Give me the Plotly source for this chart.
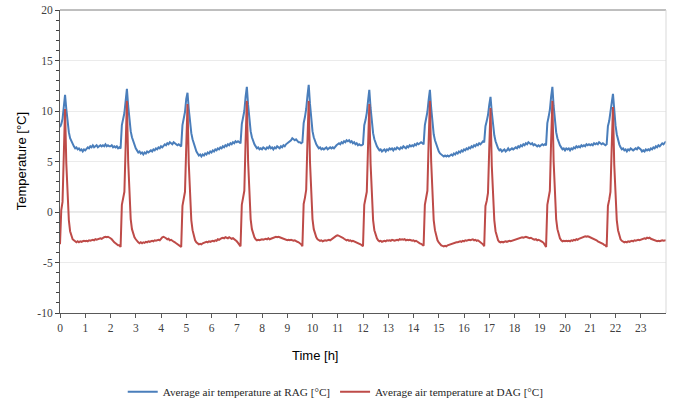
import numpy as np
import plotly.graph_objects as go

# Sampling grid: one reading every 0.05 h from 0 to 24 h
TIME_STEP_H = 0.05
time_h = np.round(np.arange(0, 24 + TIME_STEP_H / 2, TIME_STEP_H), 2)

# Average air temperature at RAG [°C] (one row per hour, 20 readings each)
rag_temp = [
    8.4, 8.7, 9.2, 10.6, 11.6, 10.2, 8.8, 7.9, 7.3, 7.0, 6.7, 6.5, 6.3, 6.4, 6.2, 6.3, 6.1, 6.2, 6.0, 6.2,
    6.1, 6.3, 6.4, 6.3, 6.5, 6.4, 6.6, 6.4, 6.5, 6.6, 6.4, 6.5, 6.6, 6.5, 6.6, 6.5, 6.7, 6.5, 6.6, 6.5,
    6.5, 6.6, 6.4, 6.5, 6.4, 6.5, 6.3, 6.4, 6.3, 8.6, 9.1, 9.8, 11.0, 12.2, 10.5, 8.9, 8.0, 7.4, 7.0, 6.6,
    6.3, 6.1, 5.9, 6.0, 5.8, 5.9, 5.7, 5.9, 5.8, 6.0, 5.9, 6.0, 6.1, 6.0, 6.2, 6.1, 6.3, 6.2, 6.4, 6.3,
    6.5, 6.4, 6.6, 6.7, 6.6, 6.8, 6.7, 6.9, 6.8, 6.7, 6.9, 6.8, 6.7, 6.6, 6.7, 6.6, 6.5, 8.6, 9.2, 9.9,
    11.2, 11.8, 10.2, 8.8, 7.8, 7.2, 6.7, 6.3, 6.0, 5.8, 5.6, 5.7, 5.5, 5.7, 5.6, 5.8, 5.7, 5.9, 5.8, 6.0,
    5.9, 6.1, 6.0, 6.2, 6.1, 6.3, 6.2, 6.4, 6.3, 6.5, 6.4, 6.6, 6.5, 6.7, 6.6, 6.8, 6.7, 6.9, 6.8, 7.0,
    6.9, 7.0, 6.9, 6.8, 8.7, 9.3, 10.0, 11.4, 12.4, 10.6, 9.0, 8.0, 7.4, 7.0, 6.7, 6.5, 6.3, 6.4, 6.2, 6.3,
    6.2, 6.4, 6.3, 6.2, 6.4, 6.3, 6.5, 6.3, 6.4, 6.2, 6.4, 6.3, 6.5, 6.4, 6.3, 6.5, 6.4, 6.6, 6.5, 6.7,
    6.8, 6.9, 7.0, 7.1, 7.3, 7.2, 7.1, 7.2, 7.0, 6.9, 6.9, 6.8, 6.9, 8.8, 9.4, 10.2, 11.5, 12.6, 10.7, 9.0,
    8.0, 7.4, 7.0, 6.7, 6.5, 6.3, 6.4, 6.2, 6.3, 6.2, 6.3, 6.4, 6.2, 6.3, 6.4, 6.3, 6.4, 6.3, 6.5, 6.6,
    6.7, 6.8, 6.7, 6.9, 6.8, 7.0, 6.9, 7.1, 7.0, 7.1, 6.9, 7.0, 6.8, 6.9, 6.7, 6.8, 6.6, 6.7, 6.6, 6.6,
    6.7, 8.6, 9.1, 9.8, 11.0, 12.1, 10.3, 8.8, 7.8, 7.2, 6.8, 6.5, 6.3, 6.1, 6.2, 6.0, 6.1, 6.2, 6.0, 6.2,
    6.1, 6.3, 6.2, 6.3, 6.1, 6.3, 6.2, 6.4, 6.3, 6.2, 6.4, 6.3, 6.5, 6.4, 6.3, 6.5, 6.4, 6.6, 6.5, 6.6,
    6.5, 6.7, 6.6, 6.8, 6.7, 6.8, 6.9, 6.8, 6.7, 8.6, 9.2, 9.9, 11.1, 12.1, 10.3, 8.7, 7.7, 7.1, 6.7, 6.3,
    6.0, 5.8, 5.7, 5.6, 5.5, 5.6, 5.5, 5.6, 5.5, 5.6, 5.7, 5.6, 5.8, 5.7, 5.9, 5.8, 6.0, 5.9, 6.1, 6.0,
    6.2, 6.1, 6.3, 6.2, 6.4, 6.3, 6.5, 6.4, 6.6, 6.5, 6.7, 6.6, 6.8, 6.7, 6.9, 7.0, 6.9, 8.5, 9.0, 9.6,
    10.6, 11.4, 9.9, 8.5, 7.6, 7.0, 6.6, 6.3, 6.1, 6.2, 6.0, 6.1, 6.2, 6.0, 6.1, 6.3, 6.1, 6.2, 6.3, 6.2,
    6.3, 6.4, 6.3, 6.5, 6.4, 6.6, 6.5, 6.7, 6.6, 6.8, 6.7, 6.9, 6.8, 6.7, 6.8, 6.6, 6.7, 6.6, 6.5, 6.6,
    6.5, 6.6, 6.7, 6.6, 6.7, 6.6, 8.8, 9.4, 10.1, 11.4, 12.4, 10.5, 8.9, 7.9, 7.3, 6.9, 6.6, 6.4, 6.2, 6.3,
    6.1, 6.3, 6.2, 6.3, 6.1, 6.3, 6.2, 6.4, 6.3, 6.5, 6.4, 6.5, 6.4, 6.6, 6.5, 6.6, 6.5, 6.7, 6.6, 6.7,
    6.6, 6.7, 6.6, 6.8, 6.7, 6.8, 6.7, 6.9, 6.8, 6.7, 6.8, 6.7, 6.6, 6.7, 8.5, 9.0, 9.7, 10.8, 11.7, 10.0,
    8.6, 7.7, 7.1, 6.7, 6.4, 6.2, 6.3, 6.1, 6.2, 6.0, 6.2, 6.1, 6.3, 6.2, 6.1, 6.2, 6.3, 6.2, 6.4, 6.3,
    6.2, 6.0, 6.1, 6.0, 6.2, 6.1, 6.2, 6.1, 6.3, 6.2, 6.4, 6.3, 6.5, 6.4, 6.6, 6.5, 6.7, 6.8, 6.7, 6.9,
    7.0,
]

# Average air temperature at DAG [°C]
dag_temp = [
    -3.2, 0.2, 1.0, 5.5, 10.2, 4.8, 1.2, -0.8, -1.9, -2.4, -2.7, -2.8, -2.9, -3.0, -2.9, -3.0, -2.9, -2.95, -2.9, -2.85,
    -2.9, -2.85, -2.9, -2.8, -2.85, -2.8, -2.75, -2.8, -2.7, -2.75, -2.7, -2.7, -2.6, -2.65, -2.55, -2.5, -2.45, -2.5, -2.45, -2.5,
    -2.6, -2.7, -2.9, -3.0, -3.1, -3.2, -3.3, -3.3, -3.45, 0.7, 1.2, 2.0, 6.5, 11.0, 5.0, 1.3, -0.7, -1.7, -2.2, -2.5,
    -2.7, -2.9, -3.0, -3.1, -3.0, -3.1, -3.0, -3.05, -2.95, -3.0, -2.9, -2.95, -2.9, -2.85, -2.9, -2.8, -2.85, -2.8, -2.75, -2.8,
    -2.6, -2.5, -2.45, -2.5, -2.6, -2.7, -2.65, -2.8, -2.75, -2.85, -2.9, -3.0, -3.1, -3.2, -3.25, -3.35, -3.45, 0.6, 1.2, 2.0,
    6.5, 10.7, 4.8, 1.2, -0.8, -1.8, -2.4, -2.8, -3.0, -3.1, -3.2, -3.15, -3.2, -3.1, -3.05, -3.0, -2.95, -3.0, -2.9, -2.95,
    -2.9, -2.85, -2.9, -2.8, -2.85, -2.7, -2.75, -2.65, -2.6, -2.55, -2.6, -2.5, -2.55, -2.6, -2.5, -2.6, -2.65, -2.6, -2.7, -2.75,
    -2.9, -3.05, -3.2, -3.4, 0.7, 1.3, 2.1, 7.0, 11.0, 5.0, 1.3, -0.7, -1.7, -2.2, -2.5, -2.7, -2.8, -2.75, -2.8, -2.75,
    -2.7, -2.75, -2.7, -2.65, -2.7, -2.6, -2.7, -2.65, -2.6, -2.55, -2.5, -2.45, -2.5, -2.45, -2.5, -2.55, -2.6, -2.65, -2.7, -2.75,
    -2.8, -2.75, -2.8, -2.75, -2.8, -2.85, -2.8, -2.9, -2.95, -3.0, -3.1, -3.2, -3.4, 0.8, 1.4, 2.2, 7.0, 11.0, 5.0, 1.3,
    -0.7, -1.7, -2.2, -2.5, -2.7, -2.8, -2.85, -2.8, -2.9, -2.85, -2.8, -2.85, -2.8, -2.75, -2.8, -2.7, -2.6, -2.5, -2.4, -2.35,
    -2.3, -2.35, -2.4, -2.5, -2.55, -2.65, -2.7, -2.8, -2.75, -2.85, -2.8, -2.9, -2.85, -2.9, -2.95, -3.0, -3.05, -3.1, -3.2, -3.3,
    -3.4, 0.7, 1.2, 2.0, 6.5, 10.7, 4.8, 1.2, -0.8, -1.8, -2.3, -2.6, -2.8, -2.9, -2.85, -2.95, -2.9, -2.85, -2.9, -2.8,
    -2.85, -2.8, -2.85, -2.75, -2.8, -2.85, -2.8, -2.75, -2.8, -2.7, -2.75, -2.7, -2.75, -2.7, -2.8, -2.75, -2.8, -2.75, -2.8, -2.85,
    -2.8, -2.9, -2.85, -2.95, -3.0, -3.1, -3.15, -3.25, -3.35, 0.7, 1.3, 2.1, 7.0, 11.0, 5.0, 1.2, -0.8, -1.8, -2.4, -2.8,
    -3.0, -3.2, -3.3, -3.35, -3.4, -3.35, -3.4, -3.3, -3.25, -3.2, -3.15, -3.1, -3.1, -3.05, -3.0, -3.0, -2.95, -2.9, -2.95, -2.85,
    -2.9, -2.8, -2.85, -2.8, -2.75, -2.8, -2.75, -2.7, -2.8, -2.75, -2.85, -2.8, -2.9, -3.0, -3.1, -3.2, -3.4, 0.6, 1.1, 1.9,
    6.3, 10.3, 4.6, 1.1, -0.8, -1.9, -2.5, -2.8, -2.95, -3.0, -2.95, -3.0, -2.95, -2.9, -2.95, -2.9, -2.85, -2.9, -2.85, -2.8,
    -2.8, -2.75, -2.7, -2.65, -2.6, -2.55, -2.5, -2.55, -2.5, -2.45, -2.5, -2.55, -2.6, -2.55, -2.65, -2.7, -2.75, -2.7, -2.8, -2.75,
    -2.8, -2.85, -2.95, -3.05, -3.2, -3.45, 0.7, 1.3, 2.1, 7.0, 11.0, 5.0, 1.3, -0.7, -1.7, -2.3, -2.6, -2.8, -2.9, -2.85,
    -2.9, -2.85, -2.9, -2.85, -2.9, -2.8, -2.85, -2.75, -2.8, -2.7, -2.75, -2.65, -2.6, -2.55, -2.5, -2.45, -2.4, -2.45, -2.4, -2.45,
    -2.5, -2.55, -2.6, -2.7, -2.75, -2.8, -2.9, -2.95, -3.0, -3.1, -3.15, -3.25, -3.3, -3.45, 0.6, 1.2, 2.0, 6.4, 10.4, 4.7,
    1.1, -0.8, -1.8, -2.4, -2.7, -2.85, -2.9, -3.0, -2.95, -3.0, -2.9, -2.95, -2.9, -2.85, -2.9, -2.8, -2.85, -2.8, -2.75, -2.8,
    -2.75, -2.7, -2.65, -2.6, -2.65, -2.55, -2.6, -2.55, -2.65, -2.7, -2.75, -2.8, -2.85, -2.9, -2.85, -2.9, -2.85, -2.8, -2.85, -2.8,
    -2.8,
]

x_tick_vals = list(range(0, 24))
x_tick_text = [str(v) for v in x_tick_vals]
y_tick_vals = [-10, -5, 0, 5, 10, 15, 20]
y_tick_text = ["-10", "-5", "0", "5", "10", "15", "20"]
series_names = ["Average air temperature at RAG [°C]", "Average air temperature at DAG [°C]"]
series_colors = ["#4A7EBB", "#BE4B48"]

fig = go.Figure()
for name, vals, col in zip(series_names, [rag_temp, dag_temp], series_colors):
    fig.add_trace(go.Scatter(x=time_h, y=vals, mode="lines", name=name,
                             line=dict(color=col, width=2)))

# Horizontal reference lines drawn darker than the faint grid
for yv, c in [(5, "#A6A6A6"), (0, "#D0D0D0"), (-5, "#D0D0D0")]:
    fig.add_hline(y=yv, line=dict(color=c, width=1), layer="below")

serif = "'Liberation Serif', 'Times New Roman', serif"
sans = "'Liberation Sans', Arial, sans-serif"

fig.update_layout(
    width=675, height=404,
    margin=dict(l=60, r=9, t=10, b=91, autoexpand=False),
    paper_bgcolor="white", plot_bgcolor="white",
    showlegend=True,
    legend=dict(orientation="h", x=0.455, xanchor="center", y=-0.26, yanchor="middle",
                font=dict(family=serif, size=11.2, color="#262626"),
                bgcolor="rgba(0,0,0,0)"),
    xaxis=dict(range=[0, 24], tickvals=x_tick_vals, ticktext=x_tick_text, ticks="outside", ticklen=4,
               tickcolor="#595959", showline=True, linecolor="#595959", linewidth=1,
               showgrid=False, zeroline=False, automargin=False, ticklabeloverflow="allow",
               tickfont=dict(family=serif, size=11.5, color="#404040")),
    yaxis=dict(range=[-10, 20], tickvals=y_tick_vals, ticktext=y_tick_text, ticks="outside", ticklen=4,
               tickcolor="#404040", showline=True, linecolor="#595959", linewidth=1,
               showgrid=True, gridcolor="#EBEBEB", zeroline=False, automargin=False,
               ticklabeloverflow="allow",
               minor=dict(dtick=1, ticks="outside", ticklen=3, tickcolor="#404040", showgrid=False),
               tickfont=dict(family=serif, size=11.5, color="#404040")),
)

# Top and right borders of the plot area
fig.add_shape(type="line", xref="paper", yref="paper", x0=0, x1=1, y0=1, y1=1,
              line=dict(color="#7F7F7F", width=1))
fig.add_shape(type="line", xref="paper", yref="paper", x0=1, x1=1, y0=0, y1=1,
              line=dict(color="#D9D9D9", width=1))

# Axis titles
fig.add_annotation(text="Time [h]", xref="paper", yref="paper", x=0.42, y=-0.14,
                   xanchor="center", yanchor="middle", showarrow=False,
                   font=dict(family=sans, size=13, color="black"))
fig.add_annotation(text="Temperature [°C]", xref="paper", yref="paper", x=-0.063, y=0.5,
                   xanchor="center", yanchor="middle", showarrow=False, textangle=-90,
                   font=dict(family=sans, size=13, color="black"))

# Remove the default 8 px page margin so the figure fills the window exactly
fig.write_html("out.html", config={"displayModeBar": False},
               post_script="document.body.style.margin='0';document.body.style.overflow='hidden';")
